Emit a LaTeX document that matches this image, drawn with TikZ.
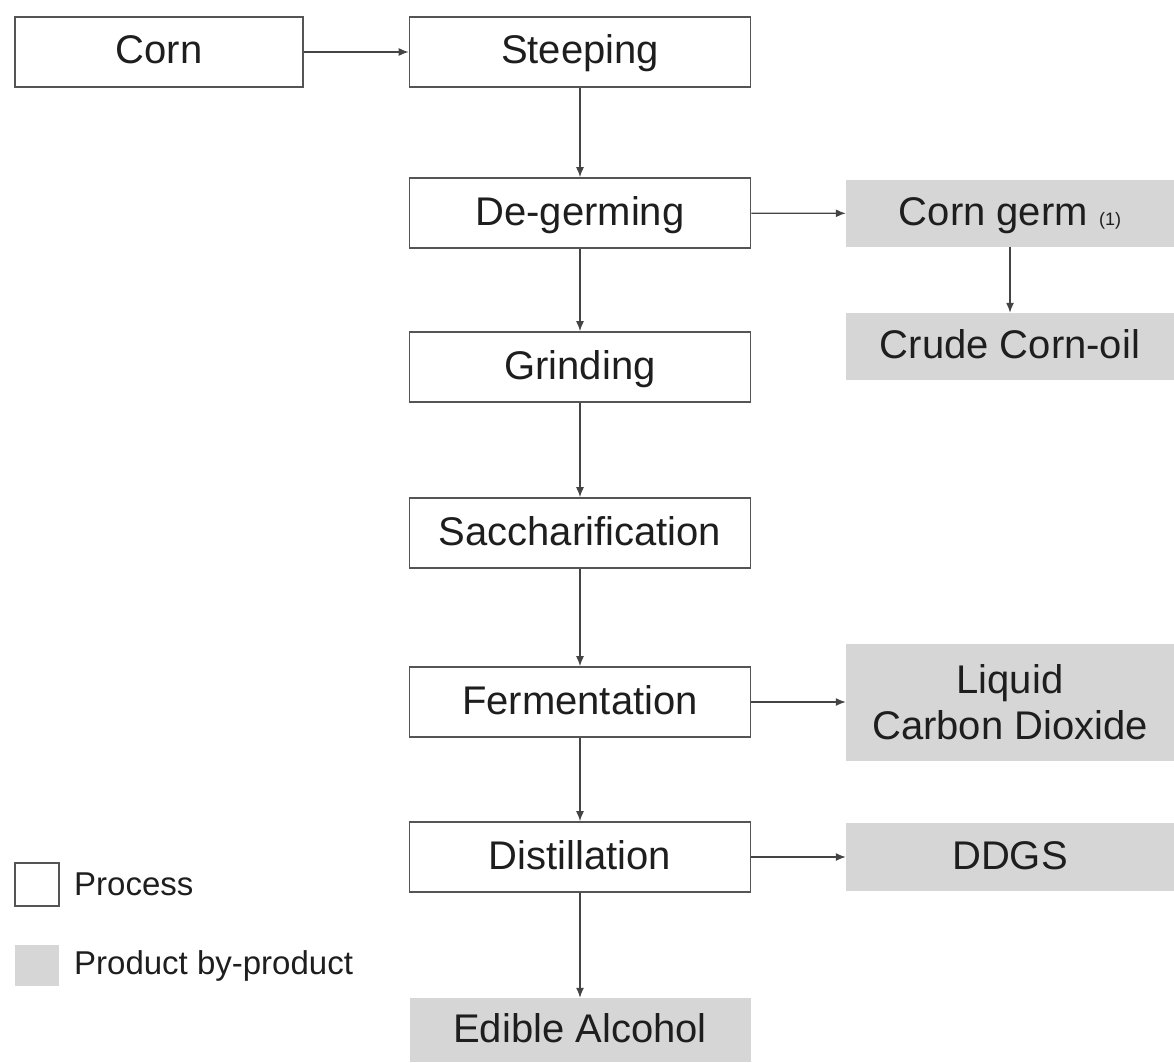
\documentclass[tikz,border=0pt]{standalone}
\usepackage{fontspec}
\setmainfont{Liberation Sans}
\usetikzlibrary{arrows.meta}
\definecolor{boxline}{HTML}{555555}
\definecolor{prodgray}{HTML}{D6D6D6}
\definecolor{txt}{HTML}{1E1E1E}
\begin{document}
\begin{tikzpicture}[x=1pt, y=-1pt,
        process/.style={draw=boxline, line width=1.6pt, fill=white, text=txt,
            minimum width=341pt, minimum height=70pt, inner sep=0pt,
            text height=29pt, text depth=5pt,
            font=\fontsize{40}{46}\selectfont},
        product/.style={fill=prodgray, text=txt, minimum width=328pt,
            inner sep=0pt, font=\fontsize{40}{46}\selectfont, align=center},
        oneline/.style={text height=29pt, text depth=5pt},
        flow/.style={line width=1.4pt, draw=boxline!80!black, -{Latex[length=10pt,width=8pt]}}]
        \useasboundingbox (0,0) rectangle (1174,1062);
        \node(corn)  at (159,  52) [process, minimum width=288pt] {Corn};
        \node(steep) at (580,  52) [process] {Steeping};
        \node(degrm) at (580, 213) [process] {De-germing};
        \node(grind) at (580, 367) [process] {Grinding};
        \node(sacch) at (580, 533) [process] {Saccharification};
        \node(ferm)  at (580, 702) [process] {Fermentation};
        \node(dist)  at (580, 857) [process] {Distillation};
        \node(alc)   at (580,1030) [product, oneline, minimum width=341pt, minimum height=64pt] {Edible Alcohol};
        \node(germ)  at (1010, 213.5) [product, oneline, minimum height=67pt] {Corn germ {\fontsize{18}{20}\selectfont(1)}};
        \node(oil)   at (1010, 346.5) [product, oneline, minimum height=67pt] {Crude Corn-oil};
        \node(co2)   at (1010, 702.5) [product, minimum height=117pt] {Liquid\\Carbon Dioxide};
        \node(ddgs)  at (1010, 857)   [product, oneline, minimum height=68pt] {DDGS};
        % legend
        \node(lgproc) at (37, 884.5) [draw=boxline, line width=1.6pt, minimum width=44pt, minimum height=43pt, inner sep=0pt] {};
        \node(lgprod) at (37, 965.5) [fill=prodgray, minimum width=44pt, minimum height=41pt, inner sep=0pt] {};
        \node(tproc) at (74, 884) [anchor=west, text=txt, inner sep=0pt, font=\fontsize{33}{38}\selectfont] {Process};
        \node(tprod) at (74, 966) [anchor=west, text=txt, inner sep=0pt, font=\fontsize{33}{38}\selectfont] {Product by-product};
        % connectors
        \draw[flow] (corn)  -- (steep);
        \draw[flow] (steep) -- (degrm);
        \draw[flow] (degrm) -- (grind);
        \draw[flow] (grind) -- (sacch);
        \draw[flow] (sacch) -- (ferm);
        \draw[flow] (ferm)  -- (dist);
        \draw[flow] (dist)  -- (alc);
        \draw[flow] (degrm) -- (germ);
        \draw[flow] (germ)  -- (oil);
        \draw[flow] (ferm.east) -- (co2.west |- ferm.east);
        \draw[flow] (dist)  -- (ddgs);
    \end{tikzpicture}
\end{document}
